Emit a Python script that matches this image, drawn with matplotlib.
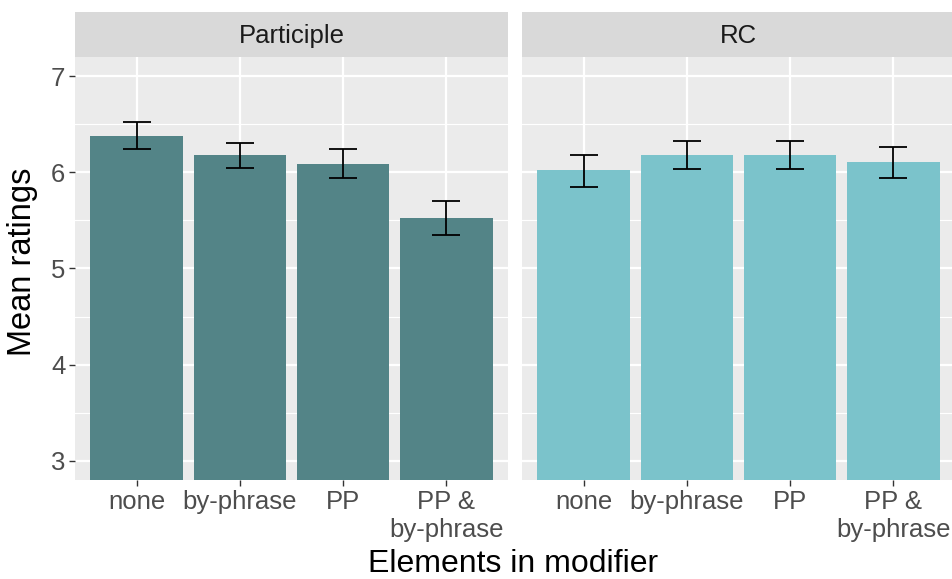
import matplotlib.pyplot as plt
import numpy as np

plt.rcParams['font.family'] = ['Liberation Sans', 'DejaVu Sans']

categories = ['none', 'by-phrase', 'PP', 'PP &\nby-phrase']
panels = ['Participle', 'RC']

participle_means = [6.38, 6.18, 6.09, 5.53]
participle_lo = [6.24, 6.05, 5.94, 5.35]
participle_hi = [6.52, 6.31, 6.24, 5.70]

rc_means = [6.02, 6.18, 6.18, 6.11]
rc_lo = [5.85, 6.03, 6.03, 5.94]
rc_hi = [6.18, 6.33, 6.33, 6.26]

y_ticks = [3, 4, 5, 6, 7]

W, H = 952, 579
fig = plt.figure(figsize=(W / 100, H / 100), dpi=100)
fig.patch.set_facecolor('white')


def px_axes(x0, y0, x1, y1):
    # pixel box (top-left origin) -> figure coords
    return fig.add_axes([x0 / W, 1 - y1 / H, (x1 - x0) / W, (y1 - y0) / H])


panel_data = [
    (participle_means, participle_lo, participle_hi, '#538487'),
    (rc_means, rc_lo, rc_hi, '#7BC3CB'),
]
boxes = [(75, 508), (522, 955)]

for i, (name, (means, lo, hi, col), (x0, x1)) in enumerate(zip(panels, panel_data, boxes)):
    ax = px_axes(x0, 57, x1, 480)
    ax.set_facecolor('#EBEBEB')
    x = np.arange(1, len(categories) + 1)
    ax.set_xlim(0.4, 4.6)
    ax.set_ylim(2.8, 7.2)

    # grid
    for yv in np.arange(3.5, 7.0, 1.0):
        ax.axhline(yv, color='white', lw=0.8, zorder=0)
    for yv in y_ticks:
        ax.axhline(yv, color='white', lw=1.6, zorder=0)
    for xv in x:
        ax.axvline(xv, color='white', lw=1.6, zorder=0)

    ax.bar(x, means, width=0.9, color=col, zorder=2, bottom=0)
    means = np.array(means)
    yerr = [means - np.array(lo), np.array(hi) - means]
    ax.errorbar(x, means, yerr=yerr, fmt='none', ecolor='black',
                elinewidth=1.3, capsize=10, capthick=1.3, zorder=3)

    for s in ax.spines.values():
        s.set_visible(False)

    ax.set_xticks(x)
    ax.set_xticklabels(categories, fontsize=18.5, color='#4D4D4D', linespacing=1.2)
    ax.tick_params(axis='x', length=4, width=1, color='#333333', pad=3)
    ax.set_yticks(y_ticks)
    if i == 0:
        ax.set_yticklabels([str(v) for v in y_ticks], fontsize=18.5, color='#4D4D4D')
        ax.tick_params(axis='y', length=4, width=1, color='#333333', pad=3)
    else:
        ax.tick_params(axis='y', length=0, labelleft=False)

    # facet strip
    sax = px_axes(x0, 12, x1, 57)
    sax.set_facecolor('#D9D9D9')
    sax.set_xticks([])
    sax.set_yticks([])
    for s in sax.spines.values():
        s.set_visible(False)
    sax.text(0.5, 0.47, name, ha='center', va='center', fontsize=18.5,
             color='#1A1A1A', transform=sax.transAxes)

fig.text(23 / W, 1 - 262 / H, 'Mean ratings', rotation=90, ha='center',
         va='center', fontsize=23.5, color='black')
fig.text(513 / W, 1 - 564 / H, 'Elements in modifier', ha='center',
         va='center', fontsize=23, color='black')

fig.savefig('out.png', dpi=100)
